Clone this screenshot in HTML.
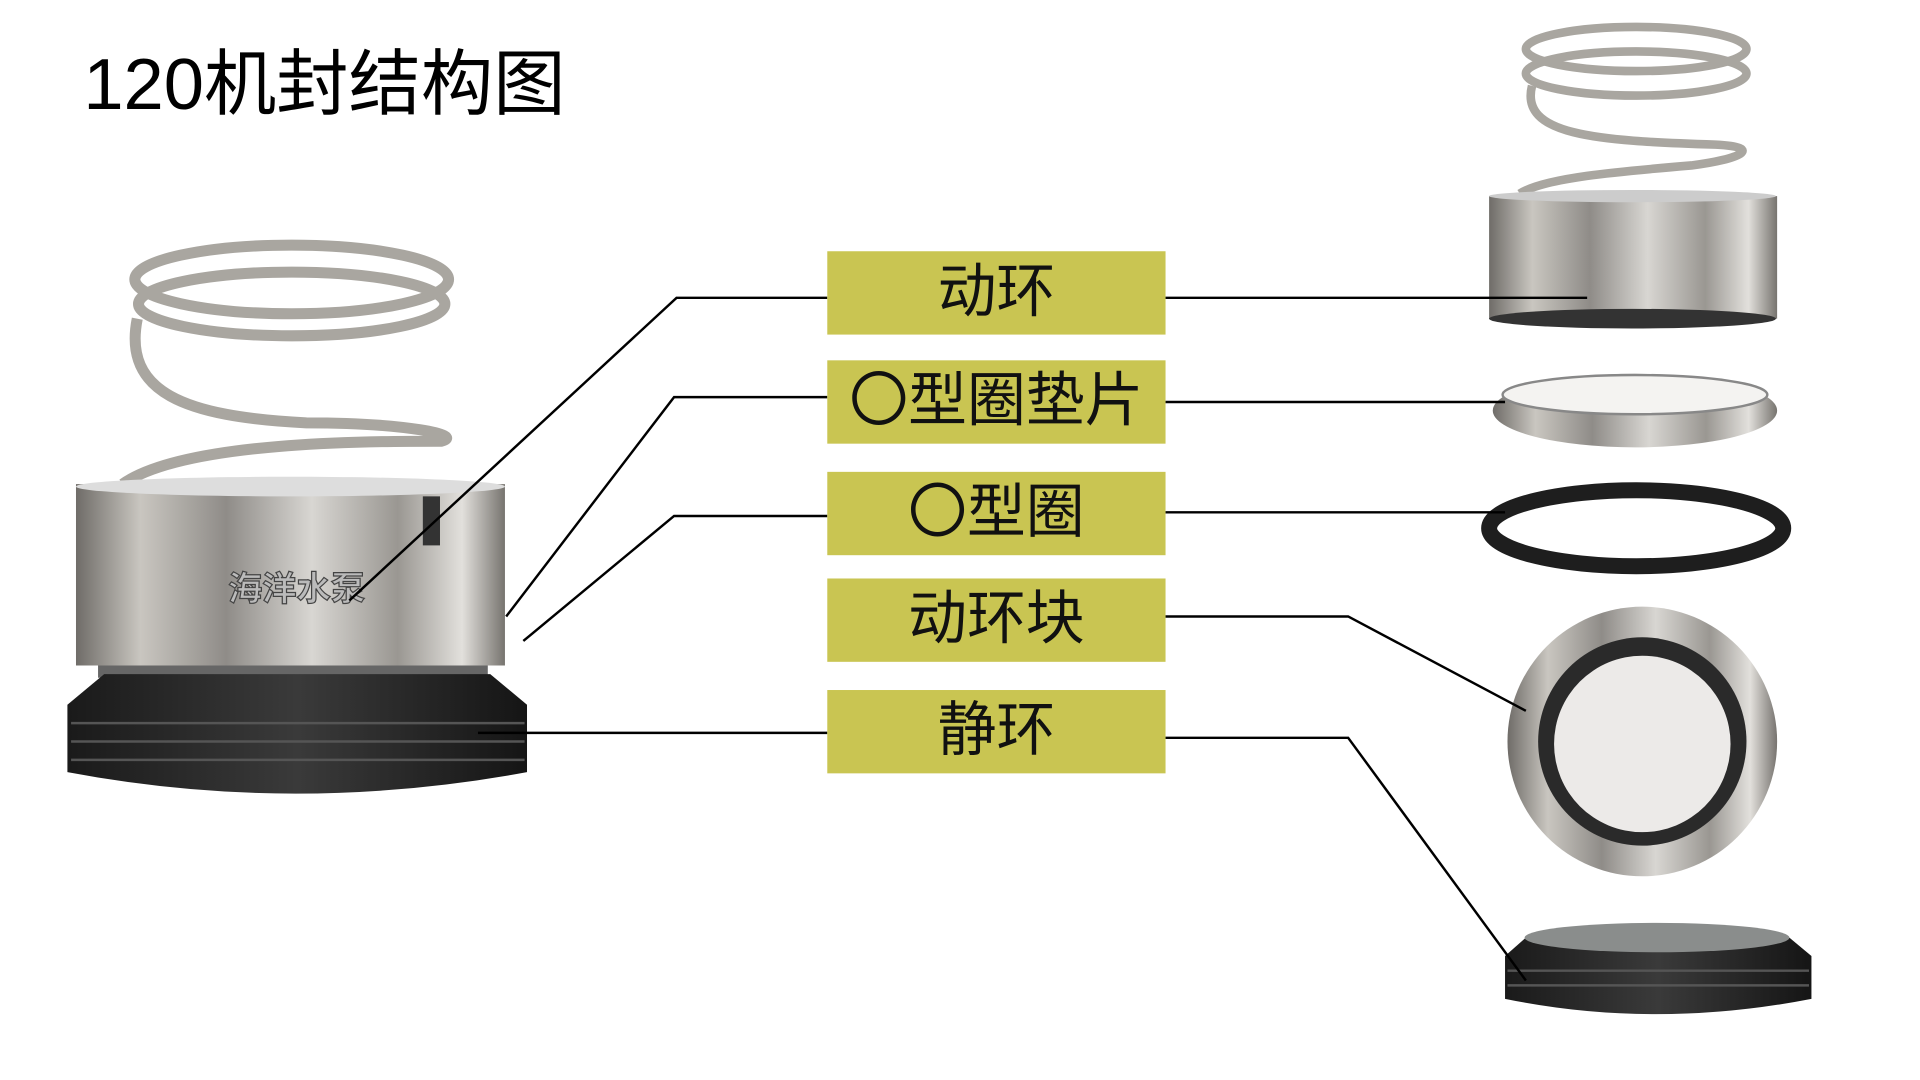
<!DOCTYPE html>
<html><head><meta charset="utf-8"><style>
html,body{margin:0;padding:0;background:#fff;width:1920px;height:1080px;overflow:hidden}
#w{position:absolute;left:0;top:0;width:1548px;height:871px;transform:scale(1.2256,1.2256);transform-origin:0 0}
svg{position:absolute;left:0;top:0}
.t{position:absolute;font-family:"Liberation Sans","Noto Sans CJK SC",sans-serif;color:#000}
.b{position:absolute;left:675px;width:276px;height:68px;background:#c9c552;font-family:"Liberation Sans","Noto Sans CJK SC",sans-serif;font-size:48px;line-height:68px;text-align:center;color:#111}
</style></head><body><div id="w">
<svg width="1548" height="871" viewBox="0 0 1548 871">
<defs>
<linearGradient id="m" x1="0" x2="1"><stop offset="0" stop-color="#6f6c68"/><stop offset=".15" stop-color="#c9c6c0"/><stop offset=".35" stop-color="#8f8c88"/><stop offset=".55" stop-color="#d8d6d2"/><stop offset=".75" stop-color="#9a9792"/><stop offset=".9" stop-color="#e2e0dc"/><stop offset="1" stop-color="#77746f"/></linearGradient>
<linearGradient id="r" x1="0" x2="1"><stop offset="0" stop-color="#1a1a1a"/><stop offset=".5" stop-color="#3a3a3a"/><stop offset="1" stop-color="#151515"/></linearGradient>
</defs>
<g fill="none" stroke="#a9a6a0" stroke-width="9">
<ellipse cx="238" cy="228" rx="128" ry="28"/><ellipse cx="238" cy="248" rx="125" ry="26"/>
<path d="M112 260 C100 320 150 340 250 345 C330 345 380 355 360 360 C300 360 150 360 100 395"/>
</g>
<rect x="62" y="395" width="350" height="148" fill="url(#m)"/>
<ellipse cx="237" cy="397" rx="175" ry="8" fill="#ddd"/>
<rect x="345" y="405" width="14" height="40" fill="#333"/>
<text x="186" y="490" font-family="Liberation Sans,Noto Sans CJK SC,sans-serif" font-size="28" font-weight="bold" fill="#bbb" stroke="#444" stroke-width="1">海洋水泵</text>
<rect x="80" y="543" width="318" height="10" fill="#666"/>
<path d="M85 550 L400 550 L430 575 L430 630 Q240 665 55 630 L55 575 Z" fill="url(#r)"/>
<g stroke="#555" stroke-width="2"><line x1="58" y1="590" x2="428" y2="590"/><line x1="58" y1="605" x2="428" y2="605"/><line x1="58" y1="620" x2="428" y2="620"/></g>
<g fill="none" stroke="#a9a6a0" stroke-width="7">
<ellipse cx="1335" cy="40" rx="90" ry="18"/><ellipse cx="1335" cy="60" rx="90" ry="18"/>
<path d="M1250 70 C1240 110 1300 115 1400 118 C1440 120 1420 130 1380 135 C1320 140 1260 145 1240 158"/>
</g>
<rect x="1215" y="160" width="235" height="100" fill="url(#m)"/>
<ellipse cx="1332" cy="160" rx="117" ry="5" fill="#ccc"/>
<ellipse cx="1332" cy="260" rx="117" ry="8" fill="#333"/>
<ellipse cx="1334" cy="335" rx="116" ry="30" fill="url(#m)"/>
<ellipse cx="1334" cy="322" rx="108" ry="16" fill="#f4f3f1" stroke="#888" stroke-width="2"/>
<ellipse cx="1335" cy="431" rx="120" ry="31" fill="none" stroke="#1e1e1e" stroke-width="13"/>
<ellipse cx="1340" cy="605" rx="110" ry="110" fill="url(#m)"/>
<ellipse cx="1340" cy="605" rx="85" ry="85" fill="#2a2a2a"/>
<ellipse cx="1340" cy="607" rx="72" ry="72" fill="#eceae8"/>
<path d="M1245 765 Q1350 745 1460 765 L1478 780 L1478 815 Q1350 840 1228 815 L1228 780 Z" fill="url(#r)"/>
<ellipse cx="1352" cy="765" rx="108" ry="12" fill="#8a8d8c"/>
<g stroke="#555" stroke-width="2"><line x1="1230" y1="792" x2="1476" y2="792"/><line x1="1230" y1="804" x2="1476" y2="804"/></g>
<g fill="none" stroke="#000" stroke-width="2">
<polyline points="675,243 552,243 285,490"/><line x1="951" y1="243" x2="1295" y2="243"/>
<polyline points="675,324 550,324 413,503"/><line x1="951" y1="328" x2="1228" y2="328"/>
<polyline points="675,421 550,421 427,523"/><line x1="951" y1="418" x2="1228" y2="418"/>
<polyline points="951,503 1100,503 1245,580"/>
<line x1="675" y1="598" x2="390" y2="598"/>
<polyline points="951,602 1100,602 1245,800"/>
</g>
</svg>
<div class="t" style="left:68px;top:36px;font-size:59px;line-height:66px">120机封结构图</div>
<div class="b" style="top:205px">动环</div>
<div class="b" style="top:294px">〇型圈垫片</div>
<div class="b" style="top:385px">〇型圈</div>
<div class="b" style="top:472px">动环块</div>
<div class="b" style="top:563px">静环</div>
</div></body></html>
